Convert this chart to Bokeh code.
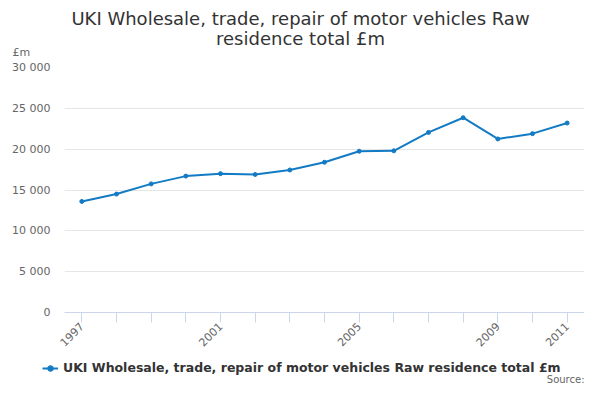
import math
from bokeh.plotting import figure
from bokeh.layouts import column
from bokeh.models import FixedTicker, Legend, LegendItem, Range1d, Label
from bokeh.embed import file_html
from bokeh.resources import INLINE

years = [1997, 1998, 1999, 2000, 2001, 2002, 2003, 2004, 2005, 2006, 2007, 2008, 2009, 2010, 2011]
values = [13600, 14500, 15750, 16700, 17000, 16900, 17450, 18400, 19750, 19800, 22050, 23850, 21250, 21900, 23200]
y_ticks = [0, 5000, 10000, 15000, 20000, 25000, 30000]
y_tick_labels = ["0", "5 000", "10 000", "15 000", "20 000", "25 000", "30 000"]
x_labelled = [1997, 2001, 2005, 2009, 2011]
title_lines = ["UKI Wholesale, trade, repair of motor vehicles Raw", "residence total £m"]
series_name = "UKI Wholesale, trade, repair of motor vehicles Raw residence total £m"
unit_label = "£m"
source_text = "Source:"

FONT = "DejaVu Sans"
LINE_COLOR = "#137bc4"
W = 584
LEFT = 64


def blank_panel(height, top):
    f = figure(width=W, height=height, output_backend="svg", toolbar_location=None,
               x_axis_type=None, y_axis_type=None, min_border=0)
    aligned = True
    try:
        f.frame_align = False
        aligned = False
    except Exception:
        aligned = True
    x0 = LEFT if aligned else 0
    f.x_range = Range1d(x0, W)
    f.y_range = Range1d(top + height, top)
    f.outline_line_color = None
    f.grid.visible = False
    f.border_fill_color = "white"
    return f, x0


# ---- header (title + unit) ----
p0, _ = blank_panel(58, 0)
p0.add_layout(Label(x=300, y=18, text=title_lines[0], text_align="center", text_baseline="middle",
                    text_font=FONT, text_font_size="18px", text_color="#333333"))
p0.add_layout(Label(x=300, y=38, text=title_lines[1], text_align="center", text_baseline="middle",
                    text_font=FONT, text_font_size="18px", text_color="#333333"))
p0.add_layout(Label(x=12, y=52, text=unit_label, text_align="left", text_baseline="middle",
                    text_font=FONT, text_font_size="11px", text_color="#666666"))

# ---- main chart ----
p = figure(width=W, height=294, output_backend="svg", toolbar_location=None,
           x_range=Range1d(1996.5, 2011.5), y_range=Range1d(0, 30000),
           min_border_left=LEFT, min_border_right=0, min_border_top=9, min_border_bottom=40)
p.outline_line_color = None
p.background_fill_color = "white"
p.border_fill_color = "white"

p.line(years, values, line_color=LINE_COLOR, line_width=2)
p.scatter(years, values, marker="circle", size=4, fill_color=LINE_COLOR, line_color=LINE_COLOR)

xa = p.xaxis[0]
xa.ticker = FixedTicker(ticks=years)
xa.major_label_overrides = {y: (str(y) if y in x_labelled else "") for y in years}
xa.major_label_orientation = math.pi / 4
xa.axis_line_color = "#ccd6eb"
xa.major_tick_line_color = "#ccd6eb"
xa.major_tick_out = 10
xa.major_tick_in = 0
xa.minor_tick_line_color = None
xa.major_label_text_font = FONT
xa.major_label_text_font_size = "11px"
xa.major_label_text_color = "#666666"
xa.major_label_standoff = 2

ya = p.yaxis[0]
ya.ticker = FixedTicker(ticks=y_ticks)
ya.major_label_overrides = {t: l for t, l in zip(y_ticks, y_tick_labels)}
ya.axis_line_color = None
ya.major_tick_line_color = None
ya.major_tick_out = 0
ya.major_tick_in = 0
ya.minor_tick_line_color = None
ya.major_label_text_font = FONT
ya.major_label_text_font_size = "11px"
ya.major_label_text_color = "#666666"
ya.major_label_standoff = 14

p.xgrid.grid_line_color = None
p.ygrid.grid_line_color = "#e6e6e6"
p.ygrid.grid_line_width = 1

# ---- footer (legend + source) ----
p2, fx0 = blank_panel(32, 352)
# legend sample of the same series (drawn outside the footer's visible range)
l2 = p2.line(years, values, line_color=LINE_COLOR, line_width=2)
s2 = p2.scatter(years, values, marker="circle", size=4, fill_color=LINE_COLOR, line_color=LINE_COLOR)
legend = Legend(items=[LegendItem(label=series_name, renderers=[l2, s2])],
                location=(max(42 - fx0, 0), 9), orientation="horizontal",
                label_text_font=FONT, label_text_font_size="12.5px", label_text_font_style="bold",
                label_text_color="#333333", border_line_color=None, background_fill_alpha=0,
                padding=0, margin=0, spacing=0, glyph_width=16, glyph_height=14, label_height=14,
                label_standoff=5)
p2.add_layout(legend, "center")
p2.add_layout(Label(x=584, y=379, text=source_text, text_align="right", text_baseline="middle",
                    text_font=FONT, text_font_size="10px", text_color="#666666"))

layout = column(p0, p, p2, spacing=0)
open("out.html", "w").write(file_html(layout, INLINE))
